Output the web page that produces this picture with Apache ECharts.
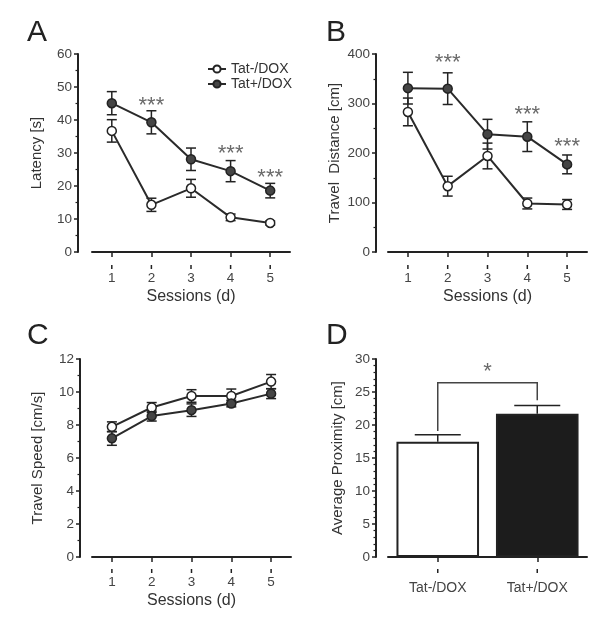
<!DOCTYPE html>
<html><head><meta charset="utf-8">
<script src="https://cdn.jsdelivr.net/npm/echarts@6/dist/echarts.min.js"></script>
<style>html,body{margin:0;padding:0;background:#fff}#c{width:607px;height:628px}</style>
</head><body><div id="c"></div>
<script>
var sessions = ['1','2','3','4','5'];
var groups = ['Tat-/DOX','Tat+/DOX'];
// Panel A: Latency [s]
var latNeg = [36.7,14.3,19.3,10.5,8.8];
var latNegErr = [3.4,2.0,2.7,1.0,0.6];
var latPos = [45.1,39.3,28.1,24.5,18.6];
var latPosErr = [3.5,3.5,3.4,3.2,2.2];
var latStars = [[1,44.4],[3,29.8],[4,22.5]];
// Panel B: Travel distance [cm]
var distNeg = [283,133,194,98,96];
var distNegErr = [28,20,26,11,10];
var distPos = [331,330,238,233,177];
var distPosErr = [32,32,30,30,19];
var distStars = [[1,382],[3,277],[4,213]];
// Panel C: Travel speed [cm/s]
var spdNeg = [7.89,9.06,9.76,9.76,10.63];
var spdNegErr = [0.3,0.3,0.38,0.42,0.43];
var spdPos = [7.19,8.54,8.9,9.3,9.9];
var spdPosErr = [0.42,0.3,0.38,0.2,0.3];
// Panel D: Average proximity [cm]
var prox = [17.46,21.7];
var proxErr = [1.05,1.25];
var bracket = {left:19.1, top:26.4, right:23.75, star:28.1};

var FONT = 'Liberation Sans, Arial, sans-serif';
var AX = '#222', TXT = '#333', STAR = '#6a6a6a';
var X_OFFSETS = [13, 13, 12, 12];

function xCat(grid, data, offset, name, fs, margin){
  return {type:'category', gridIndex:grid, data:data, boundaryGap:true, offset:offset,
    axisLine:{show:true,lineStyle:{color:AX,width:2}},
    axisTick:{show:true,alignWithLabel:true,interval:0,inside:false,length:5,lineStyle:{color:AX,width:1.5}},
    axisLabel:{color:'#444',fontSize:fs,fontFamily:FONT,margin:margin},
    name:name, nameLocation:'middle', nameGap:24,
    nameTextStyle:{color:TXT,fontSize:16,fontFamily:FONT}};
}
function yVal(grid, max, interval, offset, name, gap, minorSplit){
  return {type:'value', gridIndex:grid, min:0, max:max, interval:interval, offset:offset,
    splitLine:{show:false},
    axisLine:{show:true,lineStyle:{color:AX,width:2}},
    axisTick:{show:true,length:4,lineStyle:{color:AX,width:1.5}},
    minorTick:{show:true,splitNumber:minorSplit,length:2.5,lineStyle:{color:AX,width:1.2}},
    axisLabel:{color:'#444',fontSize:13.5,fontFamily:FONT,margin:6},
    name:name, nameLocation:'middle', nameGap:gap,
    nameTextStyle:{color:TXT,fontSize:15,fontFamily:FONT}};
}
function lineSeries(name, idx, vals, open){
  return {type:'line', name:name, xAxisIndex:idx, yAxisIndex:idx, data:vals, z:5,
    symbol:'circle', symbolSize:9, showSymbol:true,
    lineStyle:{color:'#2a2a2a',width:2},
    itemStyle:{color: open ? '#ffffff' : '#454545', borderColor:'#222', borderWidth:1.5},
    emphasis:{disabled:true}};
}
function errSeries(idx, vals, errs, capW, upOnly){
  var d = vals.map(function(v,i){return [i, upOnly ? v : v-errs[i], v+errs[i]];});
  return {type:'custom', xAxisIndex:idx, yAxisIndex:idx, data:d, z:3, silent:true,
    renderItem:function(params, api){
      var x = api.value(0);
      var lo = api.coord([x, api.value(1)]);
      var hi = api.coord([x, api.value(2)]);
      var h = capW/2;
      var st = {stroke:'#222', lineWidth:1.5};
      var ch = [{type:'line',shape:{x1:lo[0],y1:lo[1],x2:hi[0],y2:hi[1]},style:st},
                {type:'line',shape:{x1:hi[0]-h,y1:hi[1],x2:hi[0]+h,y2:hi[1]},style:st}];
      if(!upOnly) ch.push({type:'line',shape:{x1:lo[0]-h,y1:lo[1],x2:lo[0]+h,y2:lo[1]},style:st});
      return {type:'group', children:ch};
    }};
}
function textSeries(idx, pts, txt){
  return {type:'custom', xAxisIndex:idx, yAxisIndex:idx, data:pts, silent:true, z:6,
    renderItem:function(params, api){
      var p = api.coord([api.value(0), api.value(1)]);
      return {type:'text', x:p[0], y:p[1], style:{text:txt, fontSize:22, fontFamily:FONT, fill:STAR, align:'center', verticalAlign:'middle'}};
    }};
}
// category tick marks below the detached x axis line
function xTickSeries(idx, cats){
  var off = X_OFFSETS[idx];
  return {type:'custom', xAxisIndex:idx, yAxisIndex:idx, data:cats.map(function(c,i){return [i, 0];}),
    silent:true, z:7, clip:false,
    renderItem:function(params, api){
      var p = api.coord([api.value(0), api.value(1)]);
      var y0 = p[1] + off;
      return {type:'line', shape:{x1:p[0], y1:y0, x2:p[0], y2:y0+4}, style:{stroke:AX, lineWidth:1.5}};
    }};
}

var option = {
  animation:false,
  backgroundColor:'#fff',
  textStyle:{fontFamily:FONT},
  grid:[
    {left:92, top:54, width:198, height:198},
    {left:388, top:54, width:199, height:198},
    {left:92, top:359, width:199, height:198},
    {left:388, top:359, width:199, height:198}
  ],
  legend:{data:groups, orient:'vertical', left:202, top:57, itemGap:1, itemWidth:18, itemHeight:9,
    textStyle:{color:TXT,fontSize:14,fontFamily:FONT}, selectedMode:false},
  xAxis:[
    xCat(0, sessions, X_OFFSETS[0], 'Sessions (d)', 13.5, 6),
    xCat(1, sessions, X_OFFSETS[1], 'Sessions (d)', 13.5, 6),
    xCat(2, sessions, X_OFFSETS[2], 'Sessions (d)', 13.5, 6),
    (function(){var a = xCat(3, groups, X_OFFSETS[3], '', 14, 12); a.name=''; return a;})()
  ],
  yAxis:[
    yVal(0, 60, 10, 14, 'Latency [s]', 34, 2),
    yVal(1, 400, 100, 12, 'Travel  Distance [cm]', 34, 2),
    yVal(2, 12, 2, 12, 'Travel Speed [cm/s]', 35, 2),
    yVal(3, 30, 5, 12, 'Average Proximity [cm]', 31, 5)
  ],
  graphic:[
    {type:'text', left:27, top:18, style:{text:'A', fontSize:30, fontFamily:FONT, fill:'#222'}},
    {type:'text', left:326, top:18, style:{text:'B', fontSize:30, fontFamily:FONT, fill:'#222'}},
    {type:'text', left:27, top:321, style:{text:'C', fontSize:30, fontFamily:FONT, fill:'#222'}},
    {type:'text', left:326, top:321, style:{text:'D', fontSize:30, fontFamily:FONT, fill:'#222'}}
  ],
  series:[
    errSeries(0, latNeg, latNegErr, 10), errSeries(0, latPos, latPosErr, 10),
    lineSeries(groups[0], 0, latNeg, true), lineSeries(groups[1], 0, latPos, false),
    textSeries(0, latStars, '***'),
    xTickSeries(0, sessions),
    errSeries(1, distNeg, distNegErr, 10), errSeries(1, distPos, distPosErr, 10),
    lineSeries(groups[0], 1, distNeg, true), lineSeries(groups[1], 1, distPos, false),
    textSeries(1, distStars, '***'),
    xTickSeries(1, sessions),
    errSeries(2, spdNeg, spdNegErr, 10), errSeries(2, spdPos, spdPosErr, 10),
    lineSeries(groups[0], 2, spdNeg, true), lineSeries(groups[1], 2, spdPos, false),
    xTickSeries(2, sessions),
    {type:'bar', xAxisIndex:3, yAxisIndex:3, barWidth:'83%', silent:true, z:2,
      data:prox.map(function(v,i){return {value:v, itemStyle:{color: i===0 ? '#ffffff' : '#1c1c1c', borderColor:'#222', borderWidth:2}};})},
    errSeries(3, prox, proxErr, 46, true),
    xTickSeries(3, groups),
    {type:'custom', xAxisIndex:3, yAxisIndex:3, data:[[0, bracket.left, bracket.top, bracket.right]], silent:true, z:4,
      renderItem:function(params, api){
        var p1 = api.coord([0, api.value(1)]);
        var p2 = api.coord([0, api.value(2)]);
        var p3 = api.coord([1, api.value(2)]);
        var p4 = api.coord([1, api.value(3)]);
        return {type:'polyline', shape:{points:[p1,p2,p3,p4]}, style:{stroke:'#444', lineWidth:1.5, fill:null}};
      }},
    {type:'custom', xAxisIndex:3, yAxisIndex:3, data:[[0, bracket.star]], silent:true, z:6,
      renderItem:function(params, api){
        var a = api.coord([0, api.value(1)]);
        var b = api.coord([1, api.value(1)]);
        return {type:'text', x:(a[0]+b[0])/2, y:a[1], style:{text:'*', fontSize:22, fontFamily:FONT, fill:STAR, align:'center', verticalAlign:'middle'}};
      }}
  ]
};
var chart = echarts.init(document.getElementById('c'), null, {renderer:'canvas'});
chart.setOption(option);
</script></body></html>
